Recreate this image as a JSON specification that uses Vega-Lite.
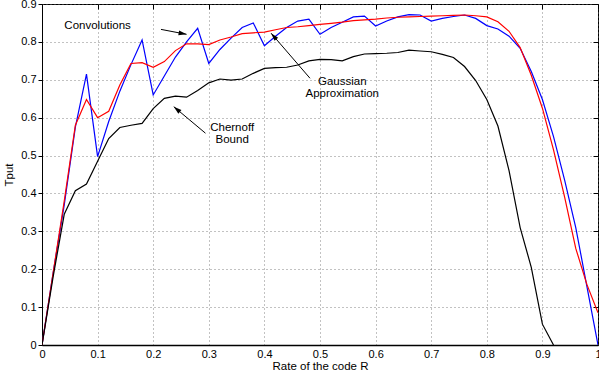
{
  "$schema": "https://vega.github.io/schema/vega-lite/v6.json",
  "width": 556,
  "height": 341,
  "autosize": {"type": "none"},
  "padding": {"left": 42, "top": 4, "right": 1, "bottom": 31},
  "background": "white",
  "config": {
    "view": {"stroke": "black", "strokeWidth": 1},
    "font": "Liberation Sans",
    "axis": {"labelFont": "Liberation Sans", "titleFont": "Liberation Sans", "labelColor": "black", "titleColor": "black", "labelFontSize": 11, "titleFontSize": 11.5, "titleFontWeight": "normal", "domainColor": "black", "tickColor": "black"}
  },
  "datasets": {
    "curves": [
      {"r": 0, "tput": 0, "series": "Convolutions"},
      {"r": 0.02, "tput": 0.19, "series": "Convolutions"},
      {"r": 0.04, "tput": 0.37, "series": "Convolutions"},
      {"r": 0.06, "tput": 0.575, "series": "Convolutions"},
      {"r": 0.08, "tput": 0.715, "series": "Convolutions"},
      {"r": 0.1, "tput": 0.497, "series": "Convolutions"},
      {"r": 0.12, "tput": 0.59, "series": "Convolutions"},
      {"r": 0.14, "tput": 0.67, "series": "Convolutions"},
      {"r": 0.16, "tput": 0.74, "series": "Convolutions"},
      {"r": 0.18, "tput": 0.805, "series": "Convolutions"},
      {"r": 0.2, "tput": 0.66, "series": "Convolutions"},
      {"r": 0.22, "tput": 0.71, "series": "Convolutions"},
      {"r": 0.24, "tput": 0.76, "series": "Convolutions"},
      {"r": 0.26, "tput": 0.8, "series": "Convolutions"},
      {"r": 0.28, "tput": 0.836, "series": "Convolutions"},
      {"r": 0.3, "tput": 0.743, "series": "Convolutions"},
      {"r": 0.32, "tput": 0.78, "series": "Convolutions"},
      {"r": 0.34, "tput": 0.81, "series": "Convolutions"},
      {"r": 0.36, "tput": 0.838, "series": "Convolutions"},
      {"r": 0.38, "tput": 0.85, "series": "Convolutions"},
      {"r": 0.4, "tput": 0.79, "series": "Convolutions"},
      {"r": 0.42, "tput": 0.815, "series": "Convolutions"},
      {"r": 0.44, "tput": 0.838, "series": "Convolutions"},
      {"r": 0.46, "tput": 0.855, "series": "Convolutions"},
      {"r": 0.48, "tput": 0.86, "series": "Convolutions"},
      {"r": 0.5, "tput": 0.82, "series": "Convolutions"},
      {"r": 0.52, "tput": 0.838, "series": "Convolutions"},
      {"r": 0.54, "tput": 0.852, "series": "Convolutions"},
      {"r": 0.56, "tput": 0.866, "series": "Convolutions"},
      {"r": 0.58, "tput": 0.868, "series": "Convolutions"},
      {"r": 0.6, "tput": 0.842, "series": "Convolutions"},
      {"r": 0.62, "tput": 0.855, "series": "Convolutions"},
      {"r": 0.64, "tput": 0.866, "series": "Convolutions"},
      {"r": 0.66, "tput": 0.872, "series": "Convolutions"},
      {"r": 0.68, "tput": 0.871, "series": "Convolutions"},
      {"r": 0.7, "tput": 0.855, "series": "Convolutions"},
      {"r": 0.72, "tput": 0.862, "series": "Convolutions"},
      {"r": 0.74, "tput": 0.867, "series": "Convolutions"},
      {"r": 0.76, "tput": 0.871, "series": "Convolutions"},
      {"r": 0.78, "tput": 0.862, "series": "Convolutions"},
      {"r": 0.8, "tput": 0.843, "series": "Convolutions"},
      {"r": 0.82, "tput": 0.834, "series": "Convolutions"},
      {"r": 0.84, "tput": 0.815, "series": "Convolutions"},
      {"r": 0.86, "tput": 0.783, "series": "Convolutions"},
      {"r": 0.88, "tput": 0.722, "series": "Convolutions"},
      {"r": 0.9, "tput": 0.648, "series": "Convolutions"},
      {"r": 0.92, "tput": 0.55, "series": "Convolutions"},
      {"r": 0.94, "tput": 0.435, "series": "Convolutions"},
      {"r": 0.96, "tput": 0.31, "series": "Convolutions"},
      {"r": 0.98, "tput": 0.155, "series": "Convolutions"},
      {"r": 1.0, "tput": 0.0, "series": "Convolutions"},
      {"r": 0, "tput": 0, "series": "Gaussian"},
      {"r": 0.02, "tput": 0.19, "series": "Gaussian"},
      {"r": 0.04, "tput": 0.38, "series": "Gaussian"},
      {"r": 0.06, "tput": 0.58, "series": "Gaussian"},
      {"r": 0.08, "tput": 0.648, "series": "Gaussian"},
      {"r": 0.1, "tput": 0.6, "series": "Gaussian"},
      {"r": 0.12, "tput": 0.617, "series": "Gaussian"},
      {"r": 0.14, "tput": 0.686, "series": "Gaussian"},
      {"r": 0.16, "tput": 0.743, "series": "Gaussian"},
      {"r": 0.18, "tput": 0.745, "series": "Gaussian"},
      {"r": 0.2, "tput": 0.733, "series": "Gaussian"},
      {"r": 0.22, "tput": 0.748, "series": "Gaussian"},
      {"r": 0.24, "tput": 0.777, "series": "Gaussian"},
      {"r": 0.26, "tput": 0.795, "series": "Gaussian"},
      {"r": 0.28, "tput": 0.795, "series": "Gaussian"},
      {"r": 0.3, "tput": 0.793, "series": "Gaussian"},
      {"r": 0.32, "tput": 0.805, "series": "Gaussian"},
      {"r": 0.34, "tput": 0.813, "series": "Gaussian"},
      {"r": 0.36, "tput": 0.822, "series": "Gaussian"},
      {"r": 0.38, "tput": 0.824, "series": "Gaussian"},
      {"r": 0.4, "tput": 0.826, "series": "Gaussian"},
      {"r": 0.42, "tput": 0.832, "series": "Gaussian"},
      {"r": 0.44, "tput": 0.838, "series": "Gaussian"},
      {"r": 0.46, "tput": 0.84, "series": "Gaussian"},
      {"r": 0.48, "tput": 0.843, "series": "Gaussian"},
      {"r": 0.5, "tput": 0.846, "series": "Gaussian"},
      {"r": 0.52, "tput": 0.849, "series": "Gaussian"},
      {"r": 0.54, "tput": 0.852, "series": "Gaussian"},
      {"r": 0.56, "tput": 0.856, "series": "Gaussian"},
      {"r": 0.58, "tput": 0.858, "series": "Gaussian"},
      {"r": 0.6, "tput": 0.86, "series": "Gaussian"},
      {"r": 0.62, "tput": 0.863, "series": "Gaussian"},
      {"r": 0.64, "tput": 0.865, "series": "Gaussian"},
      {"r": 0.66, "tput": 0.866, "series": "Gaussian"},
      {"r": 0.68, "tput": 0.867, "series": "Gaussian"},
      {"r": 0.7, "tput": 0.868, "series": "Gaussian"},
      {"r": 0.72, "tput": 0.869, "series": "Gaussian"},
      {"r": 0.74, "tput": 0.87, "series": "Gaussian"},
      {"r": 0.76, "tput": 0.871, "series": "Gaussian"},
      {"r": 0.78, "tput": 0.869, "series": "Gaussian"},
      {"r": 0.8, "tput": 0.866, "series": "Gaussian"},
      {"r": 0.82, "tput": 0.853, "series": "Gaussian"},
      {"r": 0.84, "tput": 0.828, "series": "Gaussian"},
      {"r": 0.86, "tput": 0.785, "series": "Gaussian"},
      {"r": 0.88, "tput": 0.712, "series": "Gaussian"},
      {"r": 0.9, "tput": 0.625, "series": "Gaussian"},
      {"r": 0.92, "tput": 0.515, "series": "Gaussian"},
      {"r": 0.94, "tput": 0.39, "series": "Gaussian"},
      {"r": 0.96, "tput": 0.255, "series": "Gaussian"},
      {"r": 0.98, "tput": 0.16, "series": "Gaussian"},
      {"r": 1.0, "tput": 0.085, "series": "Gaussian"},
      {"r": 0, "tput": 0, "series": "Chernoff"},
      {"r": 0.02, "tput": 0.18, "series": "Chernoff"},
      {"r": 0.04, "tput": 0.345, "series": "Chernoff"},
      {"r": 0.06, "tput": 0.407, "series": "Chernoff"},
      {"r": 0.08, "tput": 0.425, "series": "Chernoff"},
      {"r": 0.1, "tput": 0.485, "series": "Chernoff"},
      {"r": 0.12, "tput": 0.545, "series": "Chernoff"},
      {"r": 0.14, "tput": 0.574, "series": "Chernoff"},
      {"r": 0.16, "tput": 0.58, "series": "Chernoff"},
      {"r": 0.18, "tput": 0.585, "series": "Chernoff"},
      {"r": 0.2, "tput": 0.624, "series": "Chernoff"},
      {"r": 0.22, "tput": 0.651, "series": "Chernoff"},
      {"r": 0.24, "tput": 0.657, "series": "Chernoff"},
      {"r": 0.26, "tput": 0.654, "series": "Chernoff"},
      {"r": 0.28, "tput": 0.672, "series": "Chernoff"},
      {"r": 0.3, "tput": 0.692, "series": "Chernoff"},
      {"r": 0.32, "tput": 0.702, "series": "Chernoff"},
      {"r": 0.34, "tput": 0.699, "series": "Chernoff"},
      {"r": 0.36, "tput": 0.702, "series": "Chernoff"},
      {"r": 0.38, "tput": 0.717, "series": "Chernoff"},
      {"r": 0.4, "tput": 0.73, "series": "Chernoff"},
      {"r": 0.42, "tput": 0.732, "series": "Chernoff"},
      {"r": 0.44, "tput": 0.733, "series": "Chernoff"},
      {"r": 0.46, "tput": 0.739, "series": "Chernoff"},
      {"r": 0.48, "tput": 0.75, "series": "Chernoff"},
      {"r": 0.5, "tput": 0.754, "series": "Chernoff"},
      {"r": 0.52, "tput": 0.753, "series": "Chernoff"},
      {"r": 0.54, "tput": 0.75, "series": "Chernoff"},
      {"r": 0.56, "tput": 0.761, "series": "Chernoff"},
      {"r": 0.58, "tput": 0.768, "series": "Chernoff"},
      {"r": 0.6, "tput": 0.769, "series": "Chernoff"},
      {"r": 0.62, "tput": 0.77, "series": "Chernoff"},
      {"r": 0.64, "tput": 0.772, "series": "Chernoff"},
      {"r": 0.66, "tput": 0.778, "series": "Chernoff"},
      {"r": 0.68, "tput": 0.776, "series": "Chernoff"},
      {"r": 0.7, "tput": 0.774, "series": "Chernoff"},
      {"r": 0.72, "tput": 0.767, "series": "Chernoff"},
      {"r": 0.74, "tput": 0.759, "series": "Chernoff"},
      {"r": 0.76, "tput": 0.735, "series": "Chernoff"},
      {"r": 0.78, "tput": 0.698, "series": "Chernoff"},
      {"r": 0.8, "tput": 0.648, "series": "Chernoff"},
      {"r": 0.82, "tput": 0.578, "series": "Chernoff"},
      {"r": 0.84, "tput": 0.46, "series": "Chernoff"},
      {"r": 0.86, "tput": 0.31, "series": "Chernoff"},
      {"r": 0.88, "tput": 0.205, "series": "Chernoff"},
      {"r": 0.9, "tput": 0.055, "series": "Chernoff"},
      {"r": 0.92, "tput": 0.0, "series": "Chernoff"}
    ],
    "labels": [
      {"text": "Convolutions", "r": 0.1, "tput": 0.843},
      {"text": "Gaussian\nApproximation", "r": 0.54, "tput": 0.693},
      {"text": "Chernoff\nBound", "r": 0.342, "tput": 0.573}
    ],
    "arrows": [
      {"arrow": "Convolutions", "r": 0.214, "tput": 0.833},
      {"arrow": "Convolutions", "r": 0.26, "tput": 0.82},
      {"arrow": "Gaussian", "r": 0.482, "tput": 0.704},
      {"arrow": "Gaussian", "r": 0.412, "tput": 0.823},
      {"arrow": "Chernoff", "r": 0.294, "tput": 0.559},
      {"arrow": "Chernoff", "r": 0.237, "tput": 0.629}
    ],
    "heads": [
      {"arrow": "Convolutions", "r": 0.26, "tput": 0.82},
      {"arrow": "Gaussian", "r": 0.412, "tput": 0.823},
      {"arrow": "Chernoff", "r": 0.237, "tput": 0.629}
    ]
  },
  "layer": [
    {
      "data": {"name": "curves"},
      "mark": {"type": "line", "strokeWidth": 1.2, "clip": true},
      "encoding": {
        "x": {"field": "r", "type": "quantitative", "scale": {"domain": [0, 1], "nice": false, "zero": false},
          "axis": {"orient": "bottom", "title": "Rate of the code R", "values": [0, 0.1, 0.2, 0.3, 0.4, 0.5, 0.6, 0.7, 0.8, 0.9, 1], "format": ".1~f", "grid": true, "gridDash": [1, 3], "gridColor": "#666666", "gridOpacity": 0.8, "tickSize": 0, "labelPadding": 3, "titlePadding": 1, "domainWidth": 1.5, "labelFlush": false}},
        "y": {"field": "tput", "type": "quantitative", "scale": {"domain": [0, 0.9], "nice": false, "zero": false},
          "axis": {"orient": "left", "title": "Tput", "values": [0, 0.1, 0.2, 0.3, 0.4, 0.5, 0.6, 0.7, 0.8, 0.9], "format": ".1~f", "grid": true, "gridDash": [1, 3], "gridColor": "#666666", "gridOpacity": 0.8, "tickSize": 4, "labelPadding": 2, "titlePadding": 6, "labelFlush": false}},
        "color": {"field": "series", "type": "nominal", "scale": {"domain": ["Convolutions", "Gaussian", "Chernoff"], "range": ["#0000ff", "#ff0000", "#000000"]}, "legend": null},
        "order": {"field": "r", "type": "quantitative"}
      }
    },
    {
      "data": {"name": "curves"},
      "mark": {"type": "point", "opacity": 0},
      "encoding": {
        "x": {"field": "r", "type": "quantitative", "axis": {"orient": "top", "title": null, "labels": false, "grid": false, "domain": false, "tickSize": -5, "values": [0, 0.1, 0.2, 0.3, 0.4, 0.5, 0.6, 0.7, 0.8, 0.9, 1]}},
        "y": {"field": "tput", "type": "quantitative", "axis": {"orient": "right", "title": null, "labels": false, "grid": false, "domain": false, "tickSize": -5, "values": [0, 0.1, 0.2, 0.3, 0.4, 0.5, 0.6, 0.7, 0.8, 0.9]}}
      }
    },
    {
      "data": {"name": "arrows"},
      "mark": {"type": "line", "color": "black", "strokeWidth": 1},
      "encoding": {
        "x": {"field": "r", "type": "quantitative", "axis": null},
        "y": {"field": "tput", "type": "quantitative", "axis": null},
        "detail": {"field": "arrow"}
      }
    },
    {
      "data": {"name": "heads"},
      "transform": [{"filter": "datum.arrow == 'Convolutions'"}],
      "mark": {"type": "point", "shape": "M0,0L-0.6,2L0.6,2Z", "filled": true, "color": "black", "size": 64, "angle": 101, "opacity": 1},
      "encoding": {
        "x": {"field": "r", "type": "quantitative", "axis": null},
        "y": {"field": "tput", "type": "quantitative", "axis": null}
      }
    },
    {
      "data": {"name": "heads"},
      "transform": [{"filter": "datum.arrow == 'Gaussian'"}],
      "mark": {"type": "point", "shape": "M0,0L-0.6,2L0.6,2Z", "filled": true, "color": "black", "size": 64, "angle": 319, "opacity": 1},
      "encoding": {
        "x": {"field": "r", "type": "quantitative", "axis": null},
        "y": {"field": "tput", "type": "quantitative", "axis": null}
      }
    },
    {
      "data": {"name": "heads"},
      "transform": [{"filter": "datum.arrow == 'Chernoff'"}],
      "mark": {"type": "point", "shape": "M0,0L-0.6,2L0.6,2Z", "filled": true, "color": "black", "size": 64, "angle": 310, "opacity": 1},
      "encoding": {
        "x": {"field": "r", "type": "quantitative", "axis": null},
        "y": {"field": "tput", "type": "quantitative", "axis": null}
      }
    },
    {
      "data": {"name": "labels"},
      "mark": {"type": "text", "font": "Liberation Sans", "fontSize": 11.5, "color": "black", "align": "center", "baseline": "middle", "lineBreak": "\n", "lineHeight": 12},
      "encoding": {
        "x": {"field": "r", "type": "quantitative", "axis": null},
        "y": {"field": "tput", "type": "quantitative", "axis": null},
        "text": {"field": "text"}
      }
    }
  ],
  "resolve": {"axis": {"x": "independent", "y": "independent"}}
}
